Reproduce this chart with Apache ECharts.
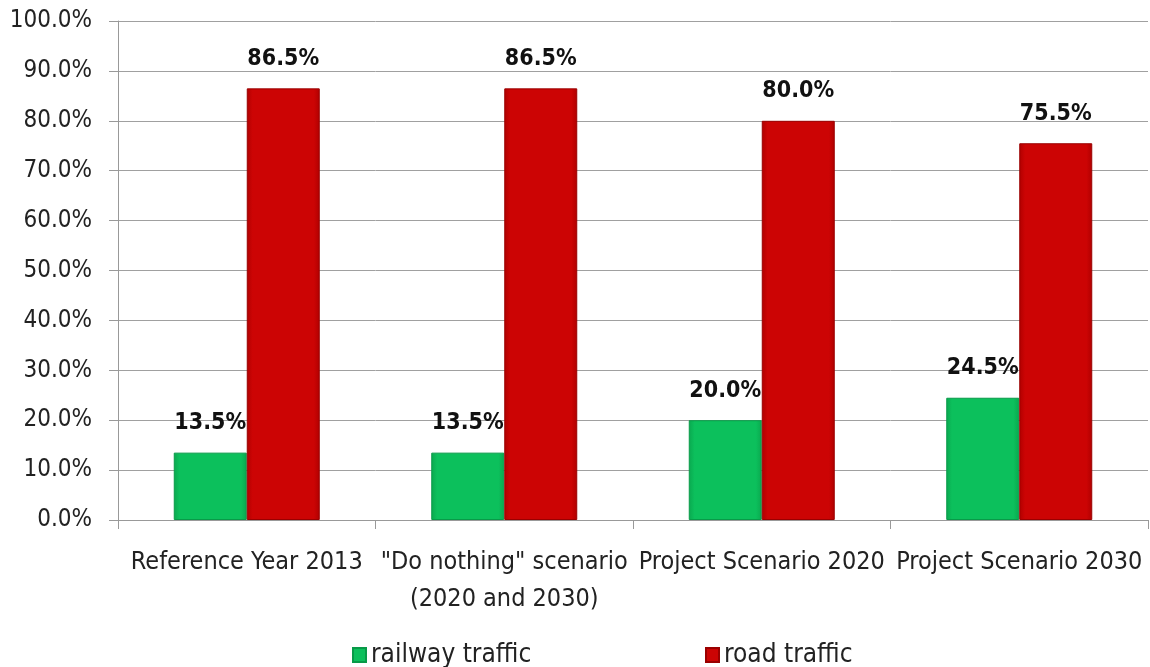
<!DOCTYPE html>
<html>
<head>
<meta charset="utf-8">
<script src="https://cdn.jsdelivr.net/npm/echarts@6/dist/echarts.min.js"></script>
<style>html,body{margin:0;padding:0;background:#fff}#c{width:1150px;height:667px}</style>
</head>
<body>
<div id="c"></div>
<script>
const categories = ['Reference Year 2013', '"Do nothing" scenario\n(2020 and 2030)', 'Project Scenario 2020', 'Project Scenario 2030'];
const railway = [13.5, 13.5, 20.0, 24.5];
const road = [86.5, 86.5, 80.0, 75.5];
const seriesNames = ['railway traffic', 'road traffic'];

const FONT = "'Liberation Sans Narrow', 'DejaVu Sans Condensed', 'Liberation Sans', sans-serif";
const green = new echarts.graphic.LinearGradient(0, 0, 1, 0, [
  {offset: 0, color: '#0aa84f'}, {offset: 0.08, color: '#0cc05c'}, {offset: 0.92, color: '#0cc05c'}, {offset: 1, color: '#0aa84f'}
]);
const red = new echarts.graphic.LinearGradient(0, 0, 1, 0, [
  {offset: 0, color: '#b00000'}, {offset: 0.08, color: '#cc0404'}, {offset: 0.92, color: '#cc0404'}, {offset: 1, color: '#b00000'}
]);
const chart = echarts.init(document.getElementById('c'), null, {renderer: 'canvas'});
const labelStyle = {
  show: true, position: 'top', distance: 18,
  formatter: p => p.value.toFixed(1) + '%',
  fontFamily: FONT, fontWeight: 'bold', fontSize: 23, color: '#111'
};
const legendText = {fontFamily: FONT, fontSize: 26, color: '#222', padding: [0, 0, 0, 0]};
chart.setOption({
  animation: false,
  grid: {left: 118, right: 2, top: 21, bottom: 147, containLabel: false, outerBoundsMode: 'none'},
  legend: [
    {data: [seriesNames[0]], icon: 'rect', left: 347, top: 637, itemWidth: 13, itemHeight: 14, textStyle: legendText, itemGap: 0},
    {data: [seriesNames[1]], icon: 'rect', left: 700, top: 637, itemWidth: 13, itemHeight: 14, textStyle: legendText, itemGap: 0}
  ],
  xAxis: {
    type: 'category', data: categories,
    axisLine: {lineStyle: {color: '#999'}},
    axisTick: {show: true, length: 9, lineStyle: {color: '#999'}},
    axisLabel: {fontFamily: FONT, fontSize: 25, color: '#222', margin: 24, lineHeight: 37, interval: 0}
  },
  yAxis: {
    type: 'value', min: 0, max: 100, interval: 10,
    axisLine: {show: true, lineStyle: {color: '#999'}},
    axisTick: {show: true, length: 9, lineStyle: {color: '#999'}},
    splitLine: {lineStyle: {color: '#a0a0a0'}},
    axisLabel: {fontFamily: FONT, fontSize: 24, color: '#222', margin: 26, formatter: v => v.toFixed(1) + '%'}
  },
  series: [
    {name: seriesNames[0], type: 'bar', data: railway, barWidth: 73, barGap: '0%',
     itemStyle: {color: green, borderColor: '#089a48', borderWidth: 1}, label: labelStyle},
    {name: seriesNames[1], type: 'bar', data: road, barWidth: 73,
     itemStyle: {color: red, borderColor: '#9a0000', borderWidth: 1}, label: labelStyle}
  ]
});
</script>
</body>
</html>
